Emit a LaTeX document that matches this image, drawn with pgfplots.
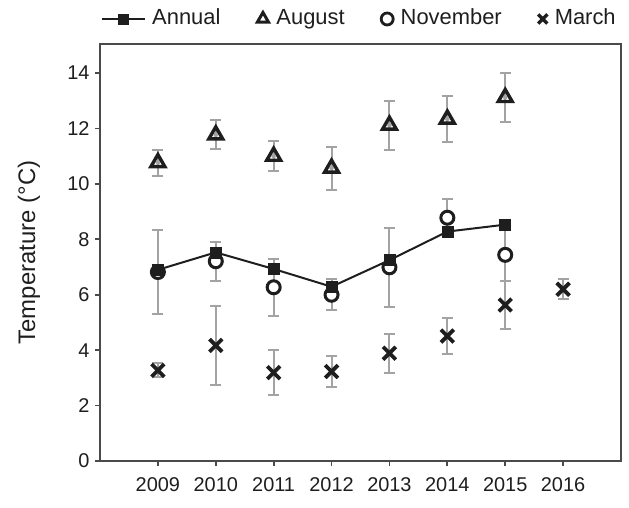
\documentclass[border=0pt]{standalone}
\usepackage{pgfplots}
\pgfplotsset{compat=1.18}
\usepackage{fontspec}
\setmainfont{Liberation Sans}

\definecolor{ink}{HTML}{1E1E1E}
\definecolor{errgray}{HTML}{A3A3A3}
\definecolor{axisgray}{HTML}{4A4A4A}

% mean temperature per year
\pgfplotstableread{
x y
2009 6.90
2010 7.53
2011 6.93
2012 6.29
2013 7.25
2014 8.28
2015 8.53
}\annual

% monthly means with their error
\pgfplotstableread{
x y e
2009 10.77 0.47
2010 11.77 0.52
2011 11.00 0.54
2012 10.57 0.78
2013 12.12 0.88
2014 12.34 0.83
2015 13.12 0.90
}\august

\pgfplotstableread{
x y e
2009 6.82 1.52
2010 7.21 0.70
2011 6.27 1.02
2012 6.00 0.56
2013 6.99 1.43
2014 8.78 0.67
2015 7.44 0.95
}\november

\pgfplotstableread{
x y e
2009 3.27 0.25
2010 4.17 1.43
2011 3.19 0.82
2012 3.23 0.57
2013 3.89 0.70
2014 4.51 0.66
2015 5.63 0.85
2016 6.20 0.37
}\march

\pgfplotsset{
  errbars/.style={
    forget plot, errgray, only marks, mark=none,
    error bars/.cd, y dir=both, y explicit,
    error mark=-,
    error bar style={line width=2bp, draw=errgray},
    error mark options={rotate=90, line width=2bp, draw=errgray, mark size=5.5bp}
  },
  annualstyle/.style={ink, line width=2bp, mark=square*,
    mark size=5.5bp, mark options={solid, fill=ink, line width=0.5bp}},
  auguststyle/.style={ink, only marks, mark=triangle,
    mark size=8bp, mark options={line width=3.4bp}},
  novstyle/.style={ink, only marks, mark=*,
    mark size=6.5bp, mark options={fill=white, line width=3bp}},
  marchstyle/.style={ink, only marks, mark=x,
    mark size=9bp, mark options={line width=3.8bp}},
  % legend sample: one mark in a box of fixed half width, centred on the text line
  markkey/.style={legend image code/.code={
    \draw plot coordinates {(0bp,0bp)};
    \path[draw=none, fill=none] (-#1,-9bp) rectangle (#1,9bp);}},
}

\begin{document}
\begin{tikzpicture}
\begin{axis}[
  scale only axis,
  width=521bp, height=417bp,
  xmin=2008, xmax=2017,
  ymin=0, ymax=15.05,
  xtick={2009,...,2016},
  ytick={0,2,...,14},
  tick align=outside,
  tick pos=left,
  major tick length=5bp,
  every tick/.style={axisgray, line width=1.8bp},
  axis line style={axisgray, line width=1.2bp},
  /pgf/number format/.cd, 1000 sep={}, assume math mode=true,
  /pgfplots/.cd,
  tick label style={font=\fontsize{20}{24}\selectfont, text=ink},
  xticklabel style={yshift=-8bp},
  yticklabel style={xshift=-2bp},
  ylabel={Temperature (°C)},
  every axis y label/.style={at={(axis description cs:-0.1363,0.5)},
    rotate=90, anchor=center, font=\fontsize{24}{28}\selectfont, text=ink},
  clip=false,
  legend style={draw=none, fill=none,
    at={(axis description cs:0,1.0600)}, anchor=west, xshift=1bp,
    legend columns=-1, inner sep=0pt,
    nodes={inner sep=0pt, text height=16bp, text depth=4.5bp},
    font=\fontsize{22}{26}\selectfont, text=ink,
    /tikz/every odd column/.append style={column sep=6bp},
    /tikz/every even column/.append style={column sep=35bp}},
]
% error bars first, so the marks sit on top of them
\addplot[errbars] table[x=x, y=y, y error=e] {\august};
\addplot[errbars] table[x=x, y=y, y error=e] {\november};
\addplot[errbars] table[x=x, y=y, y error=e] {\march};

\addplot[auguststyle, forget plot] table[x=x, y=y] {\august};
\addplot[marchstyle, forget plot] table[x=x, y=y] {\march};
\addplot[novstyle, forget plot] table[x=x, y=y] {\november};
\addplot[annualstyle, forget plot] table[x=x, y=y] {\annual};

\addlegendimage{annualstyle, mark size=5bp, legend image code/.code={
  \draw[mark repeat=2, mark phase=2] plot coordinates {(0bp,0bp) (21.5bp,0bp) (43bp,0bp)};
  \path[draw=none, fill=none] (0bp,-9bp) rectangle (43bp,9bp);}}
\addlegendentry{Annual}
\addlegendimage{auguststyle, mark size=6.5bp, mark options={line width=3bp},
  markkey=7.5bp}
\addlegendentry{August}
\addlegendimage{novstyle, mark size=6bp, mark options={fill=white, line width=2.8bp},
  markkey=7.5bp}
\addlegendentry{November}
\addlegendimage{marchstyle, mark size=6.5bp, mark options={line width=3.4bp},
  markkey=6bp}
\addlegendentry{March}
\end{axis}
\pgfresetboundingbox
\path ([xshift=-100bp, yshift=-46bp]current axis.south west)
  rectangle ([xshift=8bp, yshift=44bp]current axis.north east);
\end{tikzpicture}
\end{document}
